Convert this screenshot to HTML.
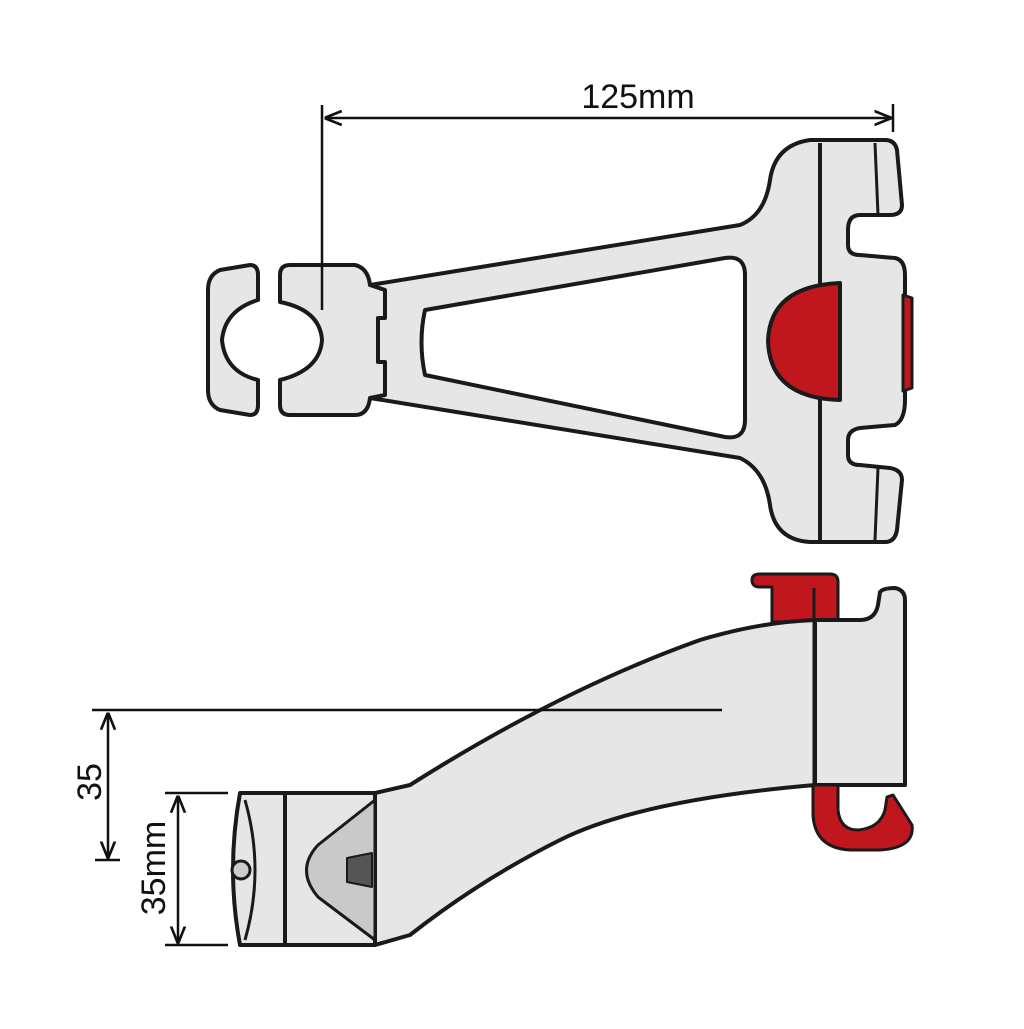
<!DOCTYPE html>
<html><head><meta charset="utf-8"><style>html,body{margin:0;padding:0;background:#fff}</style></head>
<body>
<svg width="1024" height="1024" viewBox="0 0 1024 1024" xmlns="http://www.w3.org/2000/svg">
<defs>
<marker id="a" viewBox="0 0 10 10" refX="9" refY="5" markerWidth="7" markerHeight="7" orient="auto-start-reverse"><path d="M0 1 L10 5 L0 9" fill="none" stroke="#111" stroke-width="1.5"/></marker>
</defs>
<g stroke="#1a1a1a" stroke-width="4" stroke-linejoin="round" fill="#e6e6e6">
<path d="M220 270 L250 265 Q258 265 258 275 L258 300 Q225 310 222 340 Q225 372 258 380 L258 405 Q258 415 250 415 L220 410 Q208 405 208 390 L208 290 Q208 275 220 270 Z"/>
<path d="M290 265 L355 265 Q368 268 370 285 L740 225 Q765 215 770 180 Q775 145 810 140 L885 140 Q895 140 897 150 L902 205 Q902 215 890 215 L860 215 Q848 215 848 230 L848 245 Q848 255 860 255 L895 258 Q905 260 905 275 L905 400 Q905 420 895 425 L860 428 Q848 430 848 440 L848 455 Q848 465 860 465 L890 468 Q902 470 902 480 L897 530 Q895 542 885 542 L810 542 Q775 540 770 505 Q765 470 740 458 L370 398 Q368 415 355 415 L290 415 Q280 415 280 405 L280 380 Q320 370 322 340 Q320 310 280 302 L280 275 Q280 265 290 265 Z"/>
<path d="M370 285 L385 290 L385 318 L378 318 L378 362 L385 362 L385 395 L370 398" fill="#e6e6e6"/>
<path d="M425 310 L725 258 Q745 255 745 275 L745 420 Q745 440 725 437 L425 375 Q418 342 425 310 Z" fill="#fff"/>
<path d="M820 143 L820 540" fill="none"/>
<path d="M875 143 L878 215 M878 468 L875 540" fill="none" stroke-width="3"/>
<path d="M840 283 Q770 286 768 341 Q770 398 840 400 Z" fill="#c0161e"/>
<path d="M903 295 L912 298 L912 388 L903 391 Z" fill="#c0161e" stroke-width="3"/>
<!-- bottom view -->
<path d="M752 580 Q752 574 760 574 L830 574 Q838 574 838 582 L838 622 L772 622 L772 587 L760 587 Q752 587 752 580 Z" fill="#c0161e" stroke-width="3"/>
<path d="M375 793 L410 785 Q560 690 700 640 Q760 622 815 620 L815 785 Q640 800 560 840 Q480 880 410 935 L375 945 Z"/>
<path d="M815 620 L860 620 Q875 620 878 605 L880 592 Q883 588 895 588 Q905 590 905 600 L905 785 L815 785 Z"/>
<line x1="814" y1="588" x2="814" y2="785" stroke-width="3"/>
<path d="M813 785 L838 785 L838 810 Q840 830 858 830 Q880 828 885 810 L887 797 L893 795 L912 825 Q915 848 880 850 L850 850 Q815 848 813 815 Z" fill="#c0161e" stroke-width="3"/>
<path d="M285 793 L375 793 L375 945 L285 945 Z"/>
<path d="M375 800 L318 845 Q295 870 318 897 L375 940 Z" fill="#c9c9c9" stroke-width="3"/>
<path d="M347 858 L372 853 L372 887 L347 882 Z" fill="#555" stroke-width="2"/>
<path d="M240 793 L285 793 L285 945 L240 945 Q226 870 240 793 Z"/>
<path d="M245 800 Q265 870 245 940" fill="none" stroke-width="3"/>
<circle cx="241" cy="870" r="9" fill="#ccc" stroke-width="3"/>
</g>
<g stroke="#111" stroke-width="2.5" fill="none">
<line x1="322" y1="105" x2="322" y2="310"/>
<line x1="893" y1="104" x2="893" y2="132"/>
<line x1="326" y1="118" x2="890" y2="118" marker-start="url(#a)" marker-end="url(#a)"/>
<line x1="92" y1="710" x2="722" y2="710"/>
<line x1="95" y1="860" x2="120" y2="860"/>
<line x1="108" y1="714" x2="108" y2="857" marker-start="url(#a)" marker-end="url(#a)"/>
<line x1="165" y1="793" x2="228" y2="793"/>
<line x1="165" y1="945" x2="228" y2="945"/>
<line x1="178" y1="797" x2="178" y2="942" marker-start="url(#a)" marker-end="url(#a)"/>
</g>
<g font-family="Liberation Sans, sans-serif" font-size="34" fill="#111">
<text x="638" y="108" text-anchor="middle">125mm</text>
<text transform="translate(101,782) rotate(-90)" text-anchor="middle">35</text>
<text transform="translate(165,868) rotate(-90)" text-anchor="middle">35mm</text>
</g>
</svg>
</body></html>
